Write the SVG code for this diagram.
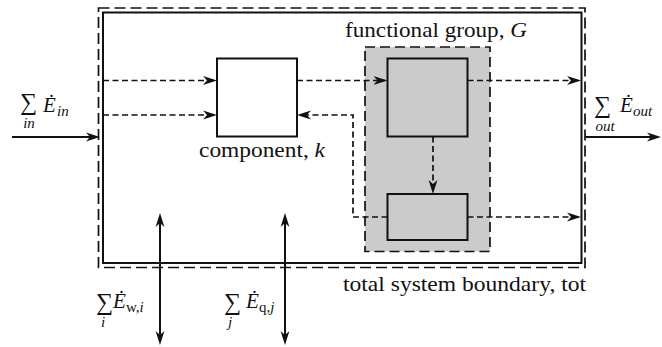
<svg xmlns="http://www.w3.org/2000/svg" width="662" height="347" viewBox="0 0 662 347">
<style>
  .it { font-style: italic; }
  .sub { font-size: 15px; }
  .sig { font-size: 24px; }
  .box { fill: #fff; stroke: #111; stroke-width: 2; }
  .gbox { fill: #cbcbcb; stroke: #111; stroke-width: 2; }
  .dash { fill: none; stroke: #111; stroke-width: 1.7; stroke-dasharray: 6 3.5; }
  .solid { fill: none; stroke: #111; stroke-width: 2; }
</style>
<defs>
  <marker id="ah" viewBox="0 0 14 10" refX="11" refY="5" markerWidth="14" markerHeight="10" markerUnits="userSpaceOnUse" orient="auto-start-reverse">
    <path d="M14,5 L0,0.6 L4,5 L0,9.4 Z" fill="#111"/>
  </marker>
</defs>

<g font-family="Liberation Serif, DejaVu Serif, serif" font-size="21" fill="#111">

<g id="total-boundary">
  <rect x="98.5" y="8" width="486.5" height="259.5" fill="none" stroke="#111" stroke-width="1.7" stroke-dasharray="11 5"/>
  <rect x="103" y="12.5" width="478.5" height="250.5" fill="none" stroke="#111" stroke-width="2"/>
  <text x="343" y="291" textLength="243" lengthAdjust="spacingAndGlyphs">total system boundary, tot</text>
</g>

<g id="functional-group">
  <rect x="365" y="47" width="125" height="204.5" fill="#cbcbcb" stroke="#111" stroke-width="1.7" stroke-dasharray="10 5"/>
  <text x="345" y="37" textLength="182" lengthAdjust="spacingAndGlyphs">functional group, <tspan class="it">G</tspan></text>
</g>

<g id="component-k">
  <rect class="box" x="217" y="58.5" width="80" height="78"/>
  <text x="199" y="157" textLength="126" lengthAdjust="spacingAndGlyphs">component, <tspan class="it">k</tspan></text>
</g>

<g id="group-top">
  <rect class="gbox" x="387.5" y="58.5" width="80" height="78"/>
</g>

<g id="group-bottom">
  <rect class="gbox" x="387.5" y="194" width="80" height="46"/>
</g>

<g id="connectors">
  <path class="dash" d="M103,80.5 H214" marker-end="url(#ah)"/>
  <path class="dash" d="M103,115 H214" marker-end="url(#ah)"/>
  <path class="dash" d="M297,80.5 H384.5" marker-end="url(#ah)"/>
  <path class="dash" d="M467.5,80.5 H578" marker-end="url(#ah)"/>
  <path class="dash" d="M433,136.5 V191" marker-end="url(#ah)"/>
  <path class="dash" d="M467.5,217 H578" marker-end="url(#ah)"/>
  <path class="dash" d="M387.5,217 H353 V115 H300" marker-end="url(#ah)"/>
  <path class="solid" d="M12,137 H97" marker-end="url(#ah)"/>
  <path class="solid" d="M585,137 H658" marker-end="url(#ah)"/>
  <path class="solid" d="M160,216 V342" marker-start="url(#ah)" marker-end="url(#ah)"/>
  <path class="solid" d="M285,216 V342" marker-start="url(#ah)" marker-end="url(#ah)"/>
</g>

<g id="label-in">
  <text class="sig" x="20" y="110">∑</text>
  <text class="it sub" x="29" y="128" text-anchor="middle">in</text>
  <text class="it" x="43" y="112">Ė</text>
  <text class="it sub" x="57" y="116">in</text>
</g>

<g id="label-out">
  <text class="sig" x="594" y="113">∑</text>
  <text class="it sub" x="605" y="131" text-anchor="middle">out</text>
  <text class="it" x="620" y="112">Ė</text>
  <text class="it sub" x="633" y="116">out</text>
</g>

<g id="label-w">
  <text class="sig" x="96" y="310">∑</text>
  <text class="it sub" x="103" y="327" text-anchor="middle">i</text>
  <text class="it" x="113" y="308">Ė</text>
  <text class="sub" x="126" y="312">w,<tspan class="it">i</tspan></text>
</g>

<g id="label-q">
  <text class="sig" x="224" y="310">∑</text>
  <text class="it sub" x="230" y="327" text-anchor="middle">j</text>
  <text class="it" x="246" y="308">Ė</text>
  <text class="sub" x="259" y="312">q,<tspan class="it">j</tspan></text>
</g>

</g>
</svg>
